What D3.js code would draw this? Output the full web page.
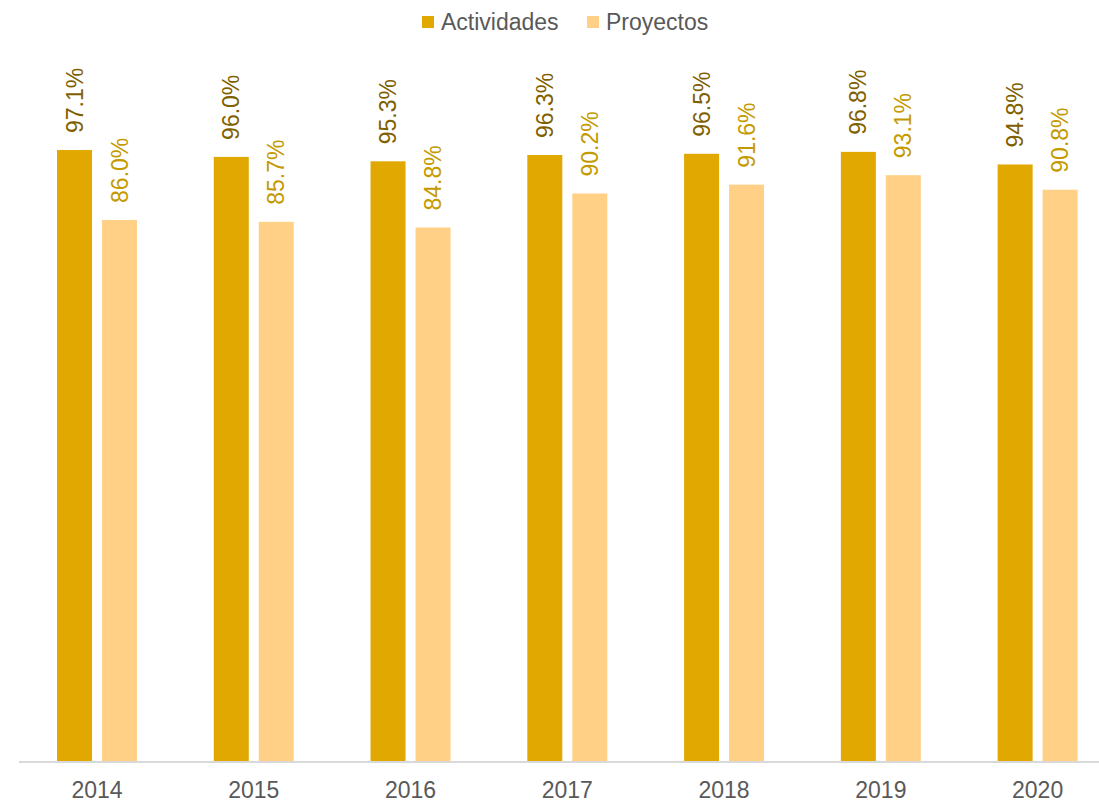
<!DOCTYPE html>
<html>
<head>
<meta charset="utf-8">
<script src="https://cdn.jsdelivr.net/npm/d3@7"></script>
<style>
  html, body { margin: 0; padding: 0; background: #fff; }
  svg { display: block; font-family: "Liberation Sans", Arial, sans-serif; }
</style>
</head>
<body>
<svg id="chart" width="1099" height="801"></svg>
<script>
const years = ["2014", "2015", "2016", "2017", "2018", "2019", "2020"];
const seriesNames = ["Actividades", "Proyectos"];
const actividades = [97.1, 96.0, 95.3, 96.3, 96.5, 96.8, 94.8];
const proyectos = [86.0, 85.7, 84.8, 90.2, 91.6, 93.1, 90.8];

const barColors = { Actividades: "#E0A800", Proyectos: "#FFD085" };
const labelColors = { Actividades: "#7F6000", Proyectos: "#C49A00" };

const svg = d3.select("#chart");
const baseY = 762;

const x0 = d3.scaleBand().domain(years).range([18.6, 1116]).paddingInner(0.49).paddingOuter(0.245);
const x1 = d3.scaleBand().domain(seriesNames).range([0, x0.bandwidth()]).paddingInner(0.222).paddingOuter(0);
const y = d3.scaleLinear().domain([0, 100]).range([baseY, 131.7]);

const data = years.map((yr, i) => ({ year: yr, vals: [
  { key: "Actividades", v: actividades[i] },
  { key: "Proyectos", v: proyectos[i] }
]}));

const groups = svg.selectAll("g.grp").data(data).enter().append("g")
  .attr("class", "grp")
  .attr("transform", d => `translate(${x0(d.year)},0)`);

groups.selectAll("rect").data(d => d.vals).enter().append("rect")
  .attr("x", d => x1(d.key))
  .attr("width", x1.bandwidth())
  .attr("y", d => y(d.v))
  .attr("height", d => baseY - y(d.v))
  .attr("fill", d => barColors[d.key]);

groups.selectAll("text.val").data(d => d.vals).enter().append("text")
  .attr("class", "val")
  .attr("transform", d => `translate(${x1(d.key) + x1.bandwidth() / 2},${y(d.v) - 17}) rotate(-90)`)
  .attr("dy", "0.35em")
  .attr("text-anchor", "start")
  .attr("font-size", 23)
  .attr("fill", d => labelColors[d.key])
  .text(d => d.v.toFixed(1) + "%");

// axis
const xAxis = d3.axisBottom(x0).tickSize(0).tickPadding(20);
const ax = svg.append("g").attr("transform", `translate(0,${baseY})`).call(xAxis);
ax.select(".domain").attr("stroke", "#D9D9D9").attr("stroke-width", 2).attr("d", "M19,0H1099");
ax.selectAll("text").attr("font-size", 23).attr("fill", "#595959")
  .attr("font-family", "Liberation Sans, Arial, sans-serif");

// legend
const legend = [
  { key: "Actividades", sx: 422, tx: 441 },
  { key: "Proyectos", sx: 587, tx: 606 }
];
const lg = svg.append("g");
lg.selectAll("rect").data(legend).enter().append("rect")
  .attr("x", d => d.sx).attr("y", 16).attr("width", 12).attr("height", 12)
  .attr("fill", d => barColors[d.key]);
lg.selectAll("text").data(legend).enter().append("text")
  .attr("x", d => d.tx).attr("y", 30)
  .attr("font-size", 23).attr("fill", "#595959")
  .text(d => d.key);
</script>
</body>
</html>
